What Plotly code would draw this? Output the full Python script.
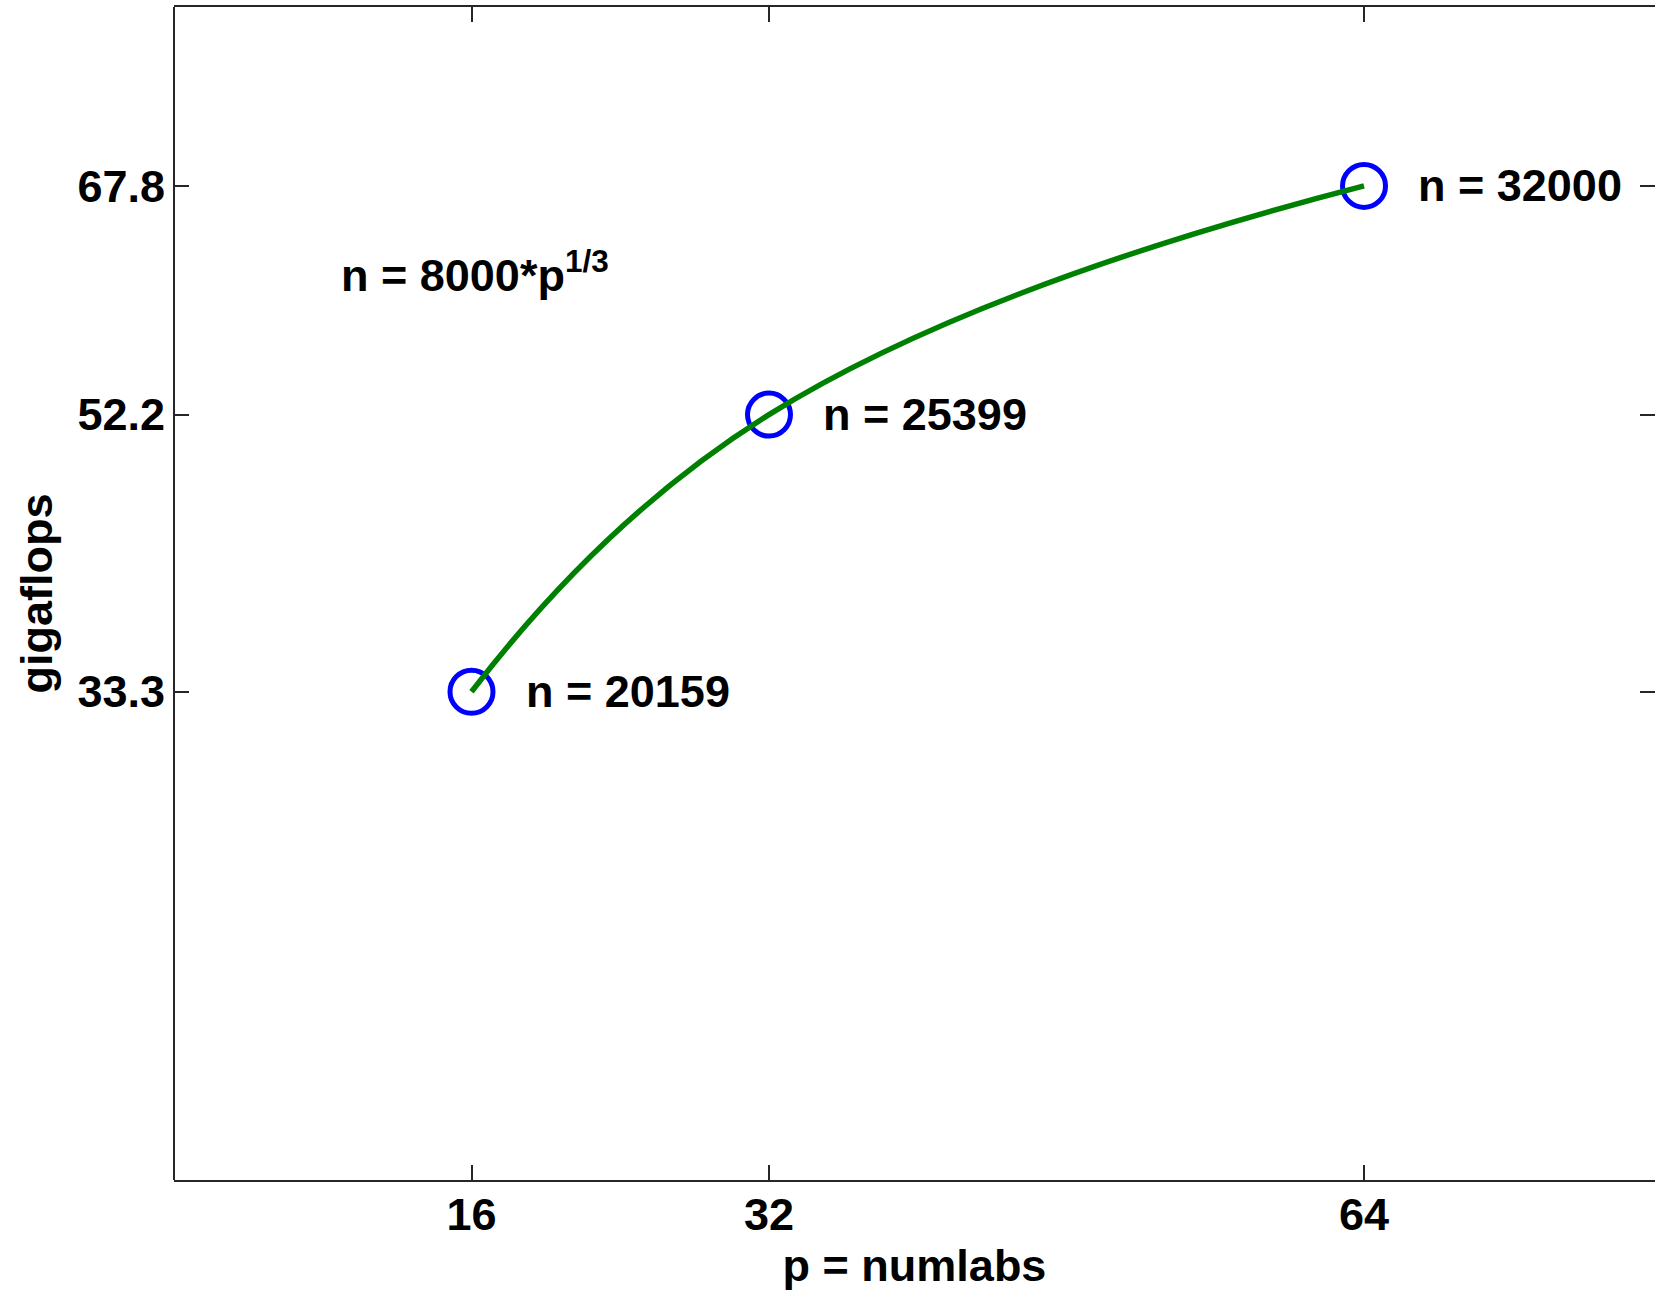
import plotly.graph_objects as go

# ---- data ----
p_values = [16, 32, 64]
gigaflops = [33.3, 52.2, 67.8]
n_values = [20159, 25399, 32000]
x_tick_vals = [16, 32, 64]
y_tick_vals = [33.3, 52.2, 67.8]
y_tick_text = ["33.3", "52.2", "67.8"]
formula_label = "n = 8000*p<sup>1/3</sup>"
formula_pos = (8.85, 61.95)
x_title = "p = numlabs"
y_title = "gigaflops"

FONT = "Liberation Sans, Arial, Helvetica, sans-serif"
AXIS_COLOR = "#262626"

fig = go.Figure()

# markers first so the line is drawn on top
fig.add_trace(go.Scatter(
    x=p_values, y=gigaflops, mode="markers",
    marker=dict(symbol="circle-open", size=43, color="#0000ff",
                line=dict(width=5, color="#0000ff")),
    showlegend=False, hoverinfo="skip"))

fig.add_trace(go.Scatter(
    x=p_values, y=gigaflops, mode="lines",
    line=dict(color="#008000", width=5.5, shape="spline", smoothing=1.3),
    showlegend=False, hoverinfo="skip"))

annotations = []
for px, gy, n in zip(p_values, gigaflops, n_values):
    annotations.append(dict(
        x=px, y=gy, xref="x", yref="y", text=f"n = {n}",
        xanchor="left", yanchor="middle", xshift=52, showarrow=False,
        font=dict(family=FONT, size=45, color="black", weight="bold")))

annotations.append(dict(
    x=formula_pos[0], y=formula_pos[1], xref="x", yref="y", text=formula_label,
    xanchor="left", yanchor="middle", showarrow=False,
    font=dict(family=FONT, size=45, color="black", weight="bold")))

fig.update_layout(
    width=1655, height=1295,
    margin=dict(l=174, r=0, t=7, b=115, autoexpand=False),
    paper_bgcolor="white", plot_bgcolor="white",
    annotations=annotations,
    shapes=[dict(type="line", xref="paper", yref="paper", x0=0, x1=0, y0=0, y1=1,
                 line=dict(color=AXIS_COLOR, width=2))],
)

fig.update_xaxes(
    range=[0, 79.65], tickmode="array", tickvals=x_tick_vals,
    ticks="inside", ticklen=15, tickwidth=1.5, tickcolor=AXIS_COLOR,
    showline=True, linecolor=AXIS_COLOR, linewidth=2, mirror="ticks",
    showgrid=False, zeroline=False,
    tickfont=dict(family=FONT, size=45, color="black", weight="bold"),
    ticklabelstandoff=-6,
    title=dict(text=x_title, standoff=10,
               font=dict(family=FONT, size=45, color="black", weight="bold")),
)

fig.update_yaxes(
    range=[0, 80], tickmode="array", tickvals=y_tick_vals, ticktext=y_tick_text,
    ticks="inside", ticklen=15, tickwidth=1.5, tickcolor=AXIS_COLOR,
    showline=False, mirror="ticks",
    showgrid=False, zeroline=False,
    tickfont=dict(family=FONT, size=45, color="black", weight="bold"),
    ticklabelstandoff=8,
    title=dict(text=y_title, standoff=10,
               font=dict(family=FONT, size=45, color="black", weight="bold")),
)

fig.write_html("out.html")
